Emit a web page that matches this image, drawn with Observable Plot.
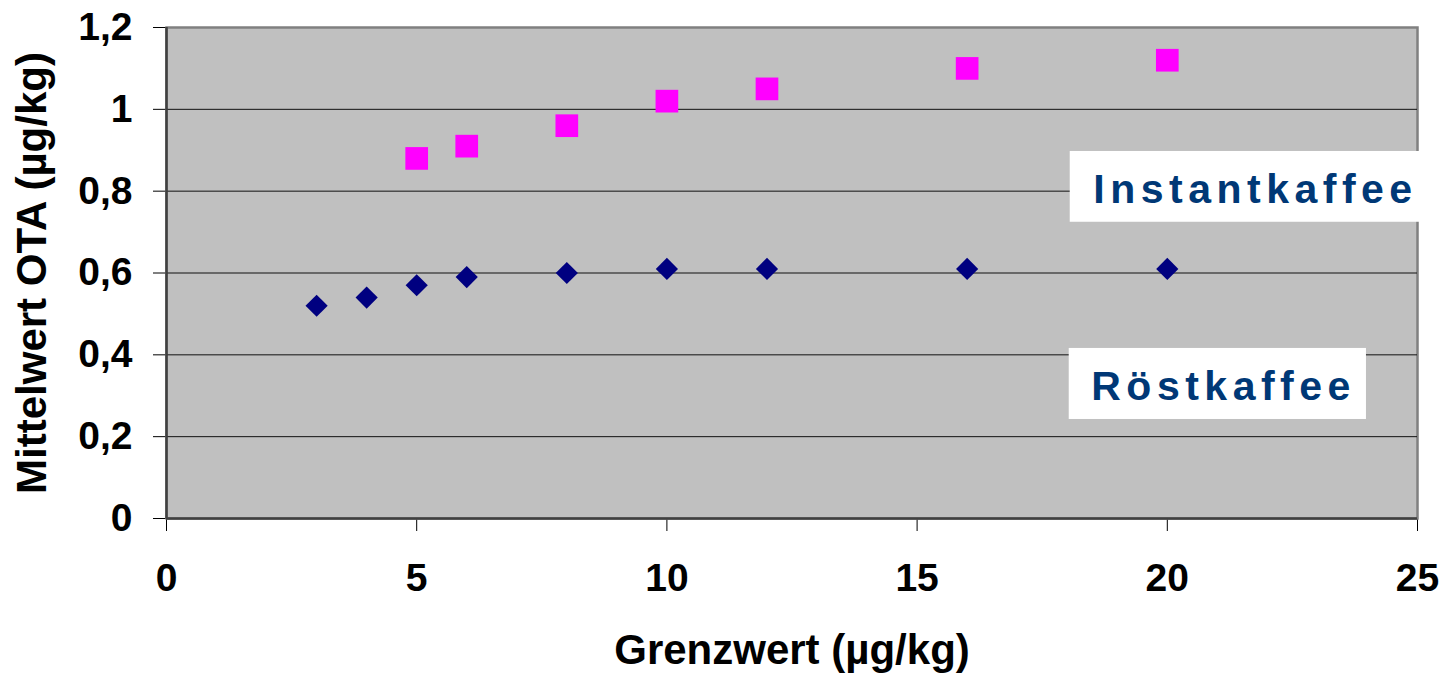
<!DOCTYPE html>
<html>
<head>
<meta charset="utf-8">
<script src="https://cdn.jsdelivr.net/npm/d3@7"></script>
<script src="https://cdn.jsdelivr.net/npm/@observablehq/plot@0.6"></script>
<style>
  html, body { margin: 0; padding: 0; background: #fff; }
  #chart svg { display: block; }
</style>
</head>
<body>
<div id="chart"></div>
<script>
// Data
const grenzwertRoest = [3, 4, 5, 6, 8, 10, 12, 16, 20];
const roestkaffee = [0.52, 0.54, 0.57, 0.59, 0.60, 0.61, 0.61, 0.61, 0.61];
const grenzwertInstant = [5, 6, 8, 10, 12, 16, 20];
const instantkaffee = [0.88, 0.91, 0.96, 1.02, 1.05, 1.10, 1.12];
const xTicks = [0, 5, 10, 15, 20, 25];
const yTicks = [0, 0.2, 0.4, 0.6, 0.8, 1, 1.2];
const gridValues = [0.2, 0.4, 0.6, 0.8, 1];
const seriesNames = ["Instantkaffee", "Röstkaffee"];
const xTitle = "Grenzwert (µg/kg)";
const yTitle = "Mittelwert OTA (µg/kg)";

const roestData = grenzwertRoest.map((g, i) => ({x: g, y: roestkaffee[i]}));
const instantData = grenzwertInstant.map((g, i) => ({x: g, y: instantkaffee[i]}));

const font = '"Liberation Sans", Arial, Helvetica, sans-serif';

const chart = Plot.plot({
  width: 1443,
  height: 676,
  marginLeft: 166,
  marginRight: 26,
  marginTop: 27,
  marginBottom: 158,
  style: {fontFamily: font, fontSize: "39px", fontWeight: "bold", color: "#000", background: "#fff", overflow: "visible"},
  x: {domain: [0, 25], ticks: xTicks, tickSize: 13, tickPadding: 32, label: null, tickFormat: d => String(d)},
  y: {domain: [0, 1.2], ticks: yTicks, tickSize: 13, tickPadding: 21, label: null, tickFormat: d => String(d).replace(".", ",")},
  marks: [
    Plot.frame({fill: "#c0c0c0", stroke: "#808080", strokeWidth: 2.5}),
    Plot.ruleY(gridValues, {stroke: "#111", strokeWidth: 1}),
    Plot.ruleX([0], {stroke: "#404040", strokeWidth: 2.5}),
    Plot.ruleY([0], {stroke: "#404040", strokeWidth: 2.5}),
    Plot.dot(instantData, {x: "x", y: "y", symbol: "square", r: 12.8, fill: "#ff00ff", stroke: null}),
    Plot.dot(roestData, {x: "x", y: "y", symbol: "diamond2", r: 10, fill: "#000080", stroke: null}),
    Plot.rect([seriesNames[0]], {x1: 18.06, x2: 25.04, y1: 0.724, y2: 0.897, fill: "#fff"}),
    Plot.rect([seriesNames[1]], {x1: 18.04, x2: 23.98, y1: 0.242, y2: 0.4156, fill: "#fff"}),
    Plot.text([seriesNames[0]], {x: 18.52, y: 0.804, text: d => d, textAnchor: "start", lineAnchor: "middle", fontSize: 41, fontWeight: "bold", fill: "#003876"}),
    Plot.text([seriesNames[1]], {x: 18.48, y: 0.3205, text: d => d, textAnchor: "start", lineAnchor: "middle", fontSize: 41, fontWeight: "bold", fill: "#003876"}),
    Plot.text([xTitle], {frameAnchor: "bottom", dy: 132, text: d => d, textAnchor: "middle", lineAnchor: "middle", fontSize: 42, fontWeight: "bold", fill: "#000"}),
    Plot.text([yTitle], {frameAnchor: "left", dx: -134, rotate: -90, text: d => d, textAnchor: "middle", lineAnchor: "middle", fontSize: 42, fontWeight: "bold", fill: "#000"})
  ]
});
d3.select(chart).selectAll("text")
  .filter(function () { return seriesNames.includes(this.textContent); })
  .style("letter-spacing", "5.5px");
document.getElementById("chart").appendChild(chart);
</script>
</body>
</html>
